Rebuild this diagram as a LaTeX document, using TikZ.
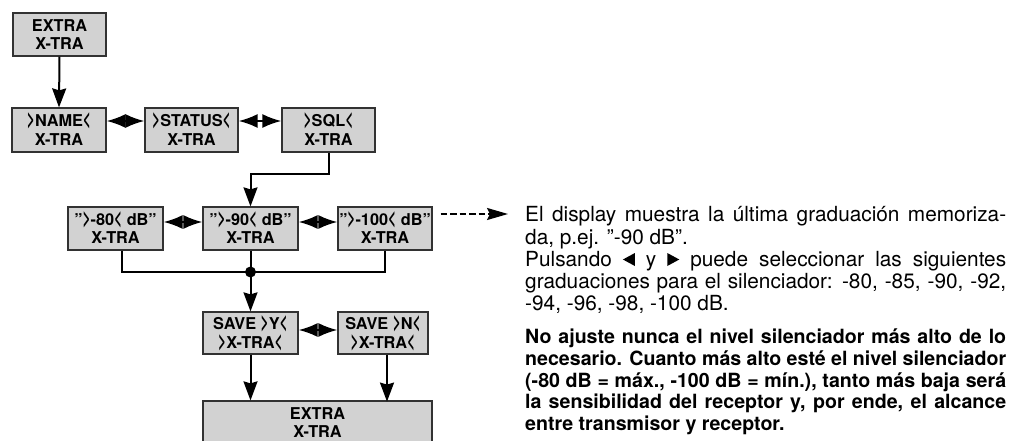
\documentclass[tikz,border=0pt]{standalone}
\usepackage{fontspec}
\setmainfont{TeX Gyre Heros}
\usetikzlibrary{arrows.meta}
\definecolor{boxgray}{RGB}{210,210,210}
\definecolor{boxline}{RGB}{50,50,50}
\tikzset{
  dbox/.style={draw=boxline, line width=1.2pt, fill=boxgray, inner sep=0pt, align=center,
    font=\fontsize{16.3}{18.7}\selectfont\bfseries, minimum height=43pt},
  conn/.style={line width=2pt},
  down/.style={conn, -{Stealth[length=19pt,width=14pt,inset=2pt]}},
  both/.style={conn, {Latex[length=19pt,width=14pt]}-{Latex[length=19pt,width=14pt]}},
  dasharrow/.style={line width=2pt, dash pattern=on 6.5pt off 3pt,
    -{Stealth[length=21pt,width=12pt,inset=3pt]}},
  bodyline/.style={anchor=base west, inner sep=0pt, font=\fontsize{20.8}{22}\selectfont},
  boldline/.style={bodyline, font=\fontsize{19.6}{22}\selectfont\bfseries},
}
\newcommand{\jline}[1]{\makebox[481pt][s]{#1}}
\newcommand{\gtc}{\raisebox{0pt}[0.72em][0pt]{\scalebox{0.85}[1.4]{>}}}
\newcommand{\ltc}{\raisebox{0pt}[0.72em][0pt]{\scalebox{0.85}[1.4]{<}}}
\newcommand{\ltri}{\tikz[baseline=0pt,x=1pt,y=1pt]\fill (0,6.5) -- (12,13) -- (12,0) -- cycle;}
\newcommand{\rtri}{\tikz[baseline=0pt,x=1pt,y=1pt]\fill (12,6.5) -- (0,13) -- (0,0) -- cycle;}
\begin{document}
\begin{tikzpicture}[x=1pt,y=-1pt]
\useasboundingbox (0,0) rectangle (1010,441);
\clip (0,0) rectangle (1010,441);

% boxes
\node[dbox, minimum width=93pt] (top) at (59.5,34.5) {EXTRA\\X-TRA};
\node[dbox, minimum width=94pt, minimum height=44pt] (name) at (59,130) {\gtc NAME\ltc\\X-TRA};
\node[dbox, minimum width=93pt, minimum height=44pt] (status) at (191.5,130) {\gtc STATUS\ltc\\X-TRA};
\node[dbox, minimum width=93pt, minimum height=44pt] (sql) at (328.5,130) {\gtc SQL\ltc\\X-TRA};

\node[dbox, minimum width=95pt] (m80) at (115.5,228.5) {"\gtc-80\ltc{} dB"\\X-TRA};
\node[dbox, minimum width=95pt] (m90) at (250.5,228.5) {"\gtc-90\ltc{} dB"\\X-TRA};
\node[dbox, minimum width=94pt] (m100) at (385,228.5) {"\gtc-100\ltc{} dB"\\X-TRA};

\node[dbox, minimum width=95pt, minimum height=42pt] (savey) at (250.5,333) {SAVE \gtc Y\ltc\\\gtc X-TRA\ltc};
\node[dbox, minimum width=90pt, minimum height=42pt] (saven) at (383,333) {SAVE \gtc N\ltc\\\gtc X-TRA\ltc};

\node[dbox, minimum width=229pt] (final) at (317.5,422.5) {EXTRA\\X-TRA};

% connectors
\draw[down] (top.south) -- (name.north);
\draw[both] ([yshift=9pt]name.east) -- ([yshift=9pt]status.west);
\draw[both] ([yshift=9pt]status.east) -- ([yshift=9pt]sql.west);
\draw[down] (sql.south) -- ++(0,21) -| (m90.north);

\draw[both] ([yshift=6.5pt]m80.east) -- ([yshift=6.5pt]m90.west);
\draw[both] ([yshift=6.5pt]m90.east) -- ([yshift=6.5pt]m100.west);

\coordinate (junc) at (250.5,272);
\draw[conn] (m80.south) ++(6.5,0) |- (junc);
\draw[conn] (m100.south) |- (junc);
\draw[conn] (m90.south) -- (junc);
\fill (junc) circle (5.5pt);
\draw[down] (junc) -- (savey.north);

\draw[both] ([yshift=3pt]savey.east) -- ([yshift=3pt]saven.west);

\draw[down] (savey.south) -- (savey.south |- final.north);
\draw[down] (saven.south) ++(4,0) -- ++(0,47);

\coordinate (dashend) at (508,214);
\draw[dasharrow, shorten <=8pt] (m100.east |- dashend) -- (dashend);

% description
\node[bodyline] (t1) at (525,222) {\jline{El display muestra la última graduación memoriza-}};
\node[bodyline] (t2) at (525,244) {da, p.ej. "-90 dB".};
\node[bodyline] (t3) at (525,266) {\jline{Pulsando \ltri{} y \rtri{} puede seleccionar las siguientes}};
\node[bodyline] (t4) at (525,288) {\jline{graduaciones para el silenciador: -80, -85, -90, -92,}};
\node[bodyline] (t5) at (525,310) {-94, -96, -98, -100 dB.};
\node[boldline] (t6) at (525,343) {\jline{No ajuste nunca el nivel silenciador más alto de lo}};
\node[boldline] (t7) at (525,365) {\jline{necesario. Cuanto más alto esté el nivel silenciador}};
\node[boldline] (t8) at (525,387) {\jline{(-80 dB = máx., -100 dB = mín.), tanto más baja será}};
\node[boldline] (t9) at (525,408) {\jline{la sensibilidad del receptor y, por ende, el alcance}};
\node[boldline] (t10) at (525,430) {entre transmisor y receptor.};
\end{tikzpicture}
\end{document}
